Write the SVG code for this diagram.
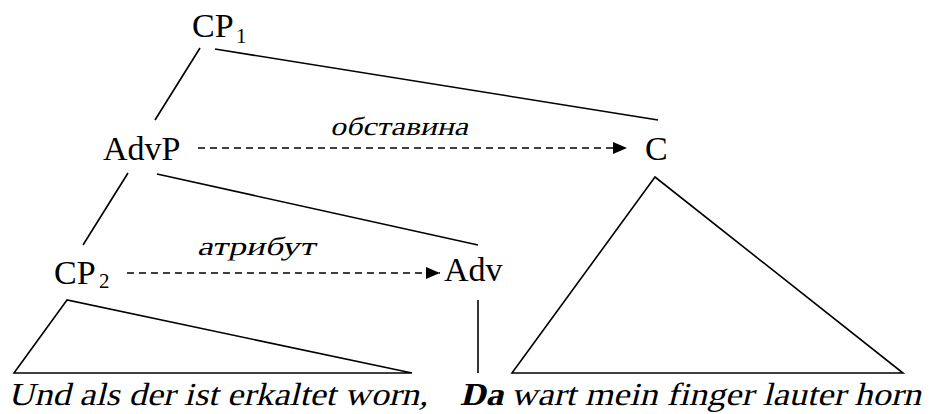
<svg xmlns="http://www.w3.org/2000/svg" width="931" height="414" viewBox="0 0 931 414" font-family="Liberation Serif, Times New Roman, serif">
<style>
text{font-family:'Liberation Serif','Times New Roman',serif;fill:#000}
.n{font-size:34px}
.s{font-size:21px}
.l{font-size:26px}
.b{font-size:32px}
.e{stroke:#000;stroke-width:1.6;fill:none}
.d{stroke:#000;stroke-width:1.6;fill:none;stroke-dasharray:7 5}
</style>
<defs>
<marker id="ah" markerUnits="userSpaceOnUse" markerWidth="15" markerHeight="12" refX="14" refY="6" orient="auto">
<path d="M0,0 L14,6 L0,12 z" fill="#000"/>
</marker>
</defs>
<g id="connectors">
<line class="e" x1="200" y1="48" x2="155" y2="120"/>
<line class="e" x1="215" y1="49" x2="658" y2="120"/>
<line class="e" x1="128" y1="173" x2="83" y2="245"/>
<line class="e" x1="157" y1="174" x2="478" y2="245"/>
<line class="e" x1="478" y1="300" x2="478" y2="373"/>
<path class="d" d="M198,148 L627,148" marker-end="url(#ah)"/>
<path class="d" d="M127,273 L440,273" marker-end="url(#ah)"/>
<text class="l" transform="translate(330,135) skewX(-14)" textLength="138" lengthAdjust="spacingAndGlyphs">обставина</text>
<text class="l" transform="translate(197,255) skewX(-14)" textLength="118" lengthAdjust="spacingAndGlyphs">атрибут</text>
</g>
<g id="cp1"><text class="n" x="192" y="37">CP<tspan class="s" x="236" y="43">1</tspan></text></g>
<g id="advp"><text class="n" x="103" y="160">AdvP</text></g>
<g id="c"><text class="n" x="645" y="160">C</text></g>
<g id="cp2"><text class="n" x="54" y="284">CP<tspan class="s" x="99" y="288">2</tspan></text></g>
<g id="adv"><text class="n" x="444" y="281">Adv</text></g>
<g id="tri-left"><polygon class="e" points="67,300 14,373 412,373"/></g>
<g id="tri-right"><polygon class="e" points="655,177 512,373 903,373"/></g>
<g id="sentence">
<text class="b" transform="translate(8,405) skewX(-14)" textLength="420" lengthAdjust="spacingAndGlyphs">Und als der ist erkaltet worn,</text>
<text class="b" transform="translate(460,405) skewX(-14)" font-weight="bold" textLength="43" lengthAdjust="spacingAndGlyphs">Da</text>
<text class="b" transform="translate(511,405) skewX(-14)" textLength="410" lengthAdjust="spacingAndGlyphs">wart mein finger lauter horn</text>
</g>
</svg>
